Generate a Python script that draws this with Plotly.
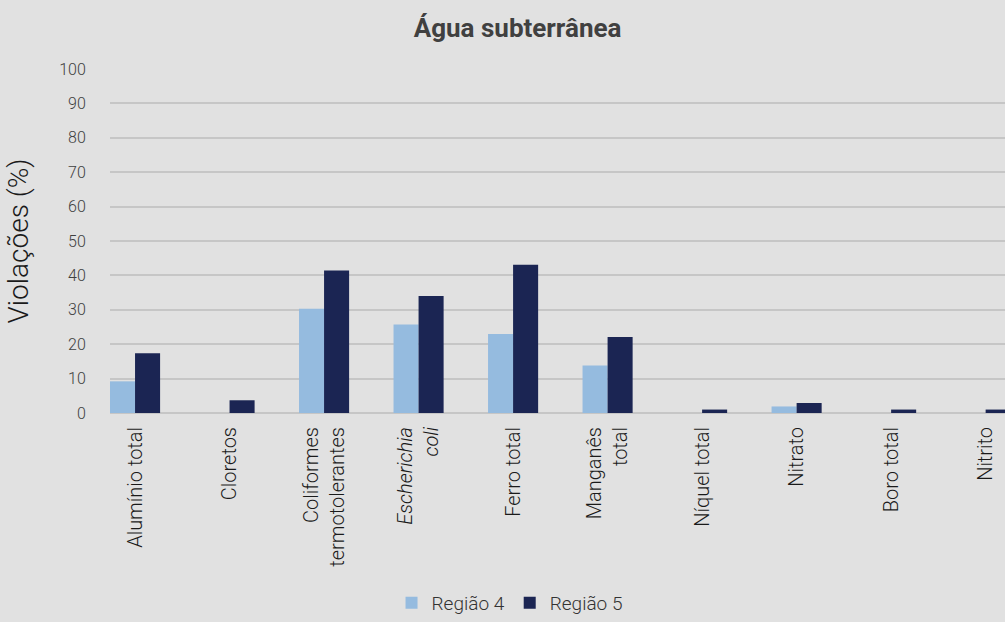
import plotly.graph_objects as go

categories = ["Alumínio total", "Cloretos", "Coliformes<br>termotolerantes",
              "<i>Escherichia</i><br>   <i>coli</i>", "Ferro total", "Manganês<br>total",
              "Níquel total", "Nitrato", "Boro total", "Nitrito"]
regiao4 = [9.2, 0, 30.3, 25.7, 23.0, 13.8, 0, 1.9, 0, 0]
regiao5 = [17.4, 3.7, 41.4, 34.0, 43.1, 22.1, 1.0, 2.9, 1.0, 1.0]
y_ticks = [0, 10, 20, 30, 40, 50, 60, 70, 80, 90, 100]

x = list(range(len(categories)))

fig = go.Figure()
fig.add_trace(go.Bar(x=x, y=regiao4, name="Região 4", marker=dict(color="#95bbdf", line=dict(width=0))))
fig.add_trace(go.Bar(x=x, y=regiao5, name="Região 5", marker=dict(color="#1b2553", line=dict(width=0))))

fig.update_layout(
    width=1005, height=622,
    paper_bgcolor="#e1e1e1", plot_bgcolor="#e1e1e1",
    margin=dict(l=110, r=0, t=69, b=209),
    barmode="group", bargap=0.47, bargroupgap=0,
    font=dict(family="Roboto", color="#404040"),
    title=dict(text="<b>Água subterrânea</b>", x=0.515, xref="container", xanchor="center",
               y=1 - 28/622, yref="container", yanchor="middle",
               font=dict(size=26, color="#404040", family="Roboto")),
    legend=dict(orientation="h", x=0.507, xref="container", xanchor="center",
                y=-0.006, yref="container", yanchor="bottom",
                font=dict(size=19, color="#333333", family="Roboto", weight=300),
                itemwidth=30, traceorder="normal", bgcolor="rgba(0,0,0,0)"),
    showlegend=True,
)

fig.update_xaxes(
    range=[-0.265, 9.205], tickmode="array", tickvals=x, ticktext=categories,
    tickangle=-90, showgrid=False, zeroline=False, showline=False,
    ticks="outside", ticklen=5, tickcolor="rgba(0,0,0,0)",
    tickfont=dict(size=20, color="#1a1a1a", family="Roboto", weight=300),
)
fig.update_yaxes(
    range=[0, 100], tickmode="array", tickvals=y_ticks,
    showgrid=True, gridcolor="#c6c6c6", gridwidth=2,
    zeroline=True, zerolinecolor="#c6c6c6", zerolinewidth=2,
    ticks="outside", ticklen=20, tickcolor="rgba(0,0,0,0)",
    tickfont=dict(size=16, color="#404040", family="Roboto", weight=300),
    title=dict(text="Violações (%)", font=dict(size=28, color="#1a1a1a", family="Roboto", weight=300), standoff=22),
)

fig.write_html("out.html")
